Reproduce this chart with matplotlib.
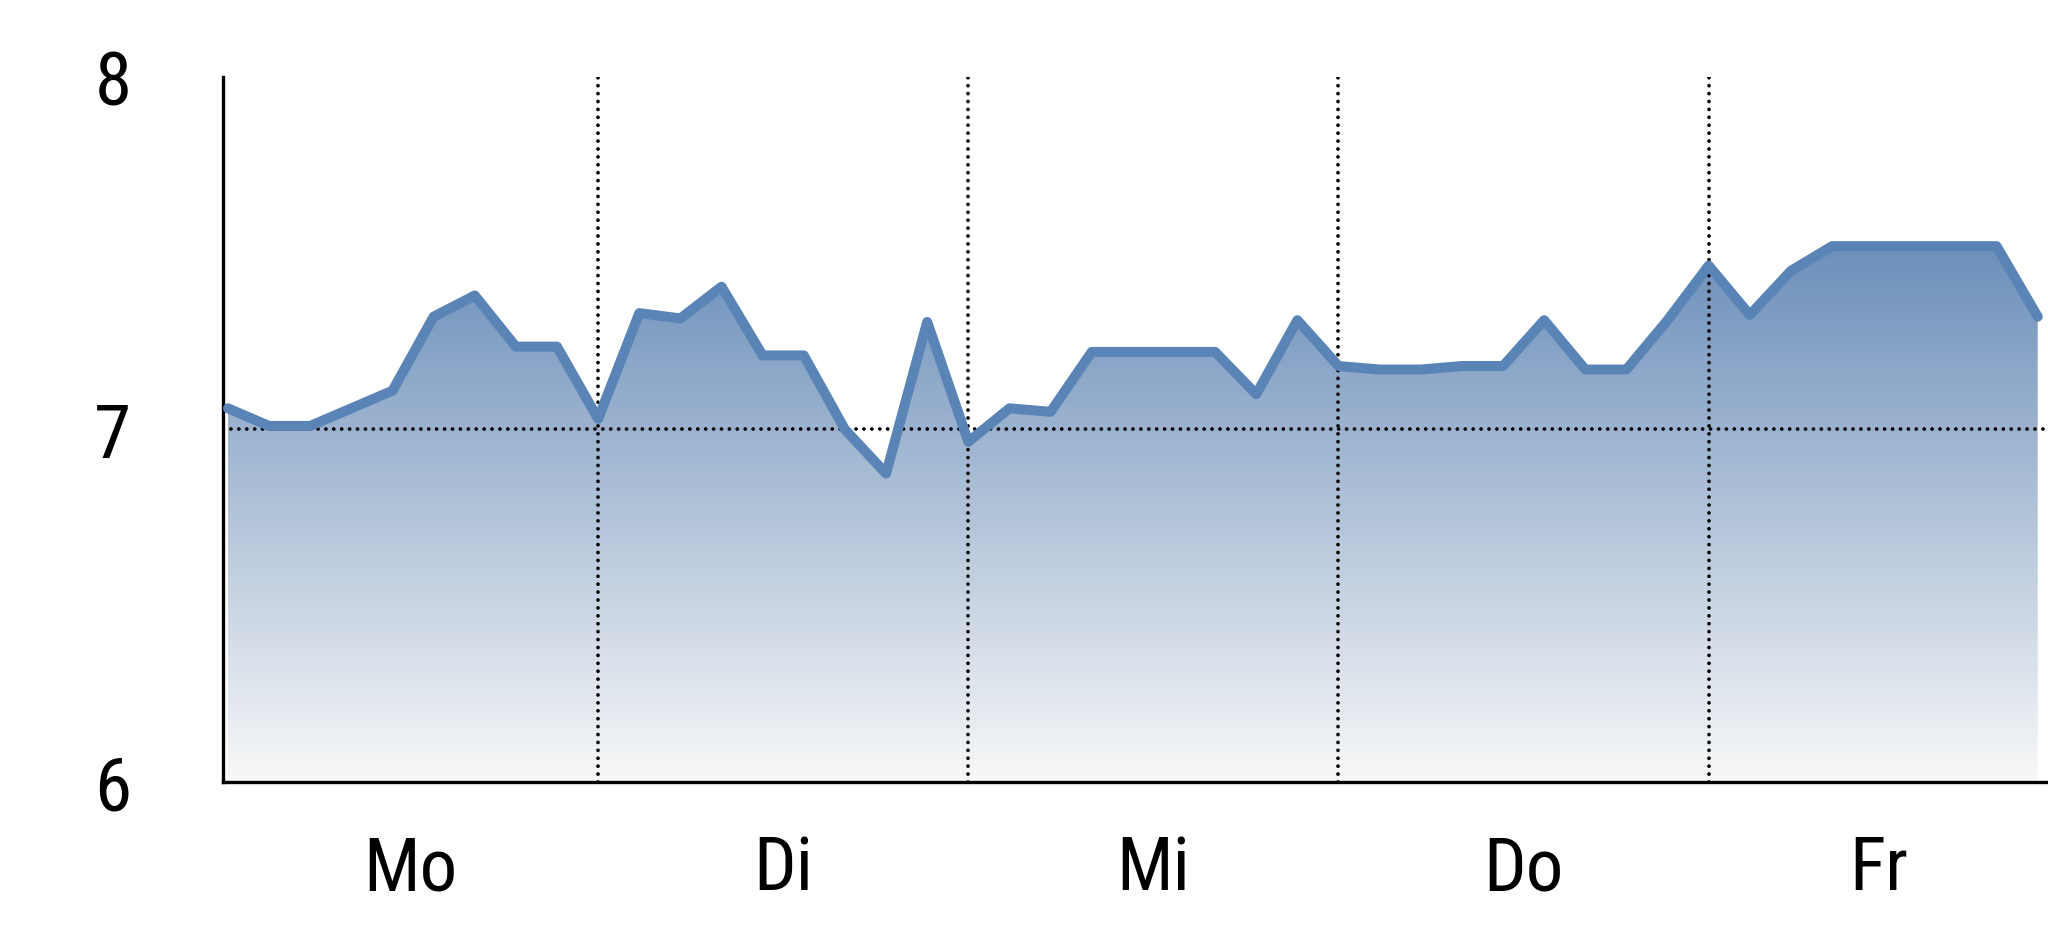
import matplotlib.pyplot as plt
import numpy as np
from matplotlib.colors import LinearSegmentedColormap

plt.rcParams['font.family'] = ['Roboto Condensed', 'Liberation Sans', 'DejaVu Sans']

# one value every step, 9 steps per day
days = ['Mo', 'Di', 'Mi', 'Do', 'Fr']
steps_per_day = 9
values = [7.06, 7.01, 7.01, 7.06, 7.11, 7.32, 7.38, 7.235, 7.235,
          7.03, 7.33, 7.315, 7.405, 7.21, 7.21, 7.00, 6.875, 7.305,
          6.965, 7.06, 7.05, 7.22, 7.22, 7.22, 7.22, 7.10, 7.31,
          7.18, 7.17, 7.17, 7.18, 7.18, 7.31, 7.17, 7.17, 7.31,
          7.465, 7.325, 7.45, 7.52, 7.52, 7.52, 7.52, 7.52, 7.32]
y_ticks = [6, 7, 8]

x = np.arange(len(values))
y = np.array(values)

fig = plt.figure(figsize=(20.48, 9.37), dpi=100)
ax = fig.add_axes([0.1089, 0.1644, 0.8911, 0.7524])

xmin, xmax = -0.12, 44.25
ax.set_xlim(xmin, xmax)
ax.set_ylim(6, 8)

# gradient fill clipped to the area under the line
poly = ax.fill_between(x, y, 6, facecolor='none', edgecolor='none')
cmap = LinearSegmentedColormap.from_list('grad', ['#f8f8f8', '#6c8fba'])
grad = np.linspace(0, 1, 256).reshape(-1, 1)
img = ax.imshow(grad, cmap=cmap, aspect='auto', origin='lower',
                extent=[x[0], x[-1], 6, y.max()], zorder=1)
img.set_clip_path(poly.get_paths()[0], transform=ax.transData)
ax.set_xlim(xmin, xmax)
ax.set_ylim(6, 8)

ax.plot(x, y, color='#5a84b6', lw=7.2, solid_joinstyle='round',
        solid_capstyle='round', zorder=3)

# dotted reference lines (round dots)
dots = (0, (0.01, 2.1))
ax.axhline(7, color='black', lw=2.7, ls=dots, dash_capstyle='round', zorder=2)
for d in range(1, len(days)):
    ax.axvline(d * steps_per_day, color='black', lw=2.7, ls=dots,
               dash_capstyle='round', zorder=2)

# day labels centred in each day's visible span
edges = [xmin] + [d * steps_per_day for d in range(1, len(days))] + [xmax]
mids = [(edges[i] + edges[i + 1]) / 2 for i in range(len(days))]
ax.set_xticks(mids)
ax.set_xticklabels(days)
ax.set_yticks(y_ticks)
ax.set_yticklabels([str(t) for t in y_ticks])
ax.tick_params(axis='x', length=0, pad=37, labelsize=54)
ax.tick_params(axis='y', length=0, pad=66, labelsize=54)

for s in ['top', 'right']:
    ax.spines[s].set_visible(False)
for s in ['left', 'bottom']:
    ax.spines[s].set_linewidth(2.4)

fig.savefig('out.png', dpi=100)
